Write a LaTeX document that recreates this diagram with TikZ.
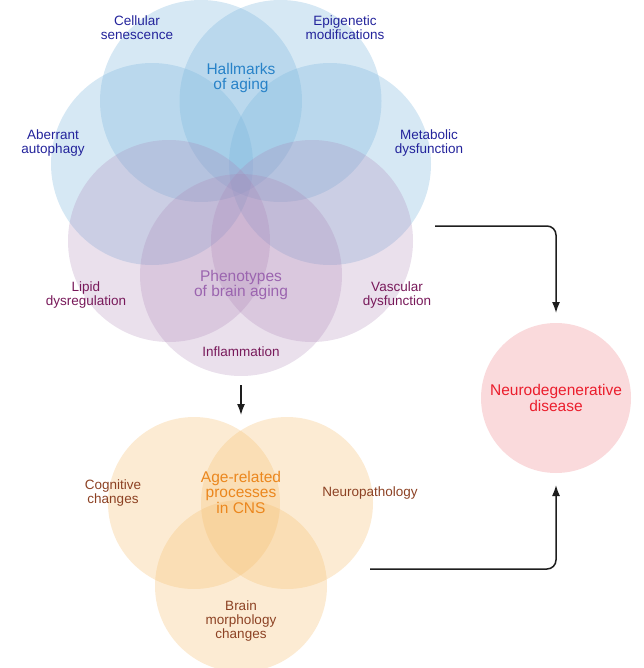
\documentclass[tikz,border=0pt]{standalone}
\usepackage{fontspec}
\setmainfont{Liberation Sans}
\usetikzlibrary{arrows.meta}
\definecolor{bluefill}{RGB}{120,180,220}
\definecolor{purplefill}{RGB}{170,130,180}
\definecolor{orangefill}{RGB}{245,190,110}
\definecolor{pinkfill}{RGB}{250,218,220}
\definecolor{navytext}{RGB}{35,35,155}
\definecolor{hallmarktext}{RGB}{40,130,200}
\definecolor{phenotext}{RGB}{155,100,175}
\definecolor{plumtext}{RGB}{120,25,90}
\definecolor{browntext}{RGB}{140,65,35}
\definecolor{agetext}{RGB}{235,135,30}
\definecolor{neurotext}{RGB}{235,30,45}
\definecolor{arrowcol}{RGB}{30,30,30}
\tikzset{
  bluecirc/.style={circle,minimum size=202pt,inner sep=0pt,fill=bluefill,fill opacity=0.3},
  purplecirc/.style={circle,minimum size=202pt,inner sep=0pt,fill=purplefill,fill opacity=0.25},
  orangecirc/.style={circle,minimum size=172pt,inner sep=0pt,fill=orangefill,fill opacity=0.3},
  neurocirc/.style={circle,minimum size=150pt,inner sep=0pt,fill=pinkfill},
  smalllabel/.style={align=center,inner sep=0pt,font=\fontsize{13.5}{14}\selectfont},
  biglabel/.style={align=center,inner sep=0pt,font=\fontsize{15.5}{15.5}\selectfont},
  flowarrow/.style={draw=arrowcol,line width=1.5pt,rounded corners=9pt,-{Latex[length=11pt,width=8pt]}}
}
\begin{document}
\begin{tikzpicture}[x=1pt,y=-1pt]
\useasboundingbox (0,0) rectangle (643,668);
% Hallmarks of aging circles
\node[bluecirc] (cs) at (201,101) {};
\node[bluecirc] (em) at (280.5,101) {};
\node[bluecirc] (aa) at (152,164) {};
\node[bluecirc] (md) at (330,164) {};
% Phenotypes of brain aging circles
\node[purplecirc] (ld) at (169,241) {};
\node[purplecirc] (vd) at (312,241) {};
\node[purplecirc] (inf) at (241,275) {};
% Age-related processes circles
\node[orangecirc] (cc) at (194,503) {};
\node[orangecirc] (np) at (287,503) {};
\node[orangecirc] (bm) at (241,586) {};
% Neurodegenerative disease
\node[neurocirc] (nd) at (556,398) {};
% Labels
\node[smalllabel,text=navytext] (tcs) at (137,28) {Cellular\\senescence};
\node[smalllabel,text=navytext] (tem) at (345,28) {Epigenetic\\modifications};
\node[biglabel,text=hallmarktext] (thm) at (241,78) {Hallmarks\\of aging};
\node[smalllabel,text=navytext] (taa) at (53,143.5) {Aberrant\\autophagy};
\node[smalllabel,text=navytext] (tmd) at (429,143.5) {Metabolic\\dysfunction};
\node[smalllabel,text=plumtext] (tld) at (86,295) {Lipid\\dysregulation};
\node[smalllabel,text=plumtext] (tvd) at (397,295) {Vascular\\dysfunction};
\node[biglabel,text=phenotext] (tpb) at (241,285) {Phenotypes\\of brain aging};
\node[smalllabel,text=plumtext] (tin) at (241,352) {Inflammation};
\node[smalllabel,text=browntext] (tcc) at (113,493) {Cognitive\\changes};
\node[smalllabel,text=browntext] (tnp) at (370,493) {Neuropathology};
\node[biglabel,text=agetext] (tar) at (241,492) {Age-related\\processes\\in CNS};
\node[smalllabel,text=browntext] (tbm) at (241,621) {Brain\\morphology\\changes};
\node[biglabel,text=neurotext] (tnd) at (556,398) {Neurodegenerative\\disease};
% Connectors
\coordinate (topstart) at (435,226);
\coordinate (botstart) at (370,569);
\coordinate (midstart) at (241,385);
\coordinate (midend) at (241,415);
\coordinate (topend) at (556,313);
\coordinate (botend) at (556,485);
\draw[flowarrow] (topstart) -| (topend);
\draw[flowarrow] (botstart) -| (botend);
\draw[flowarrow] (midstart) -- (midend);
\end{tikzpicture}
\end{document}
